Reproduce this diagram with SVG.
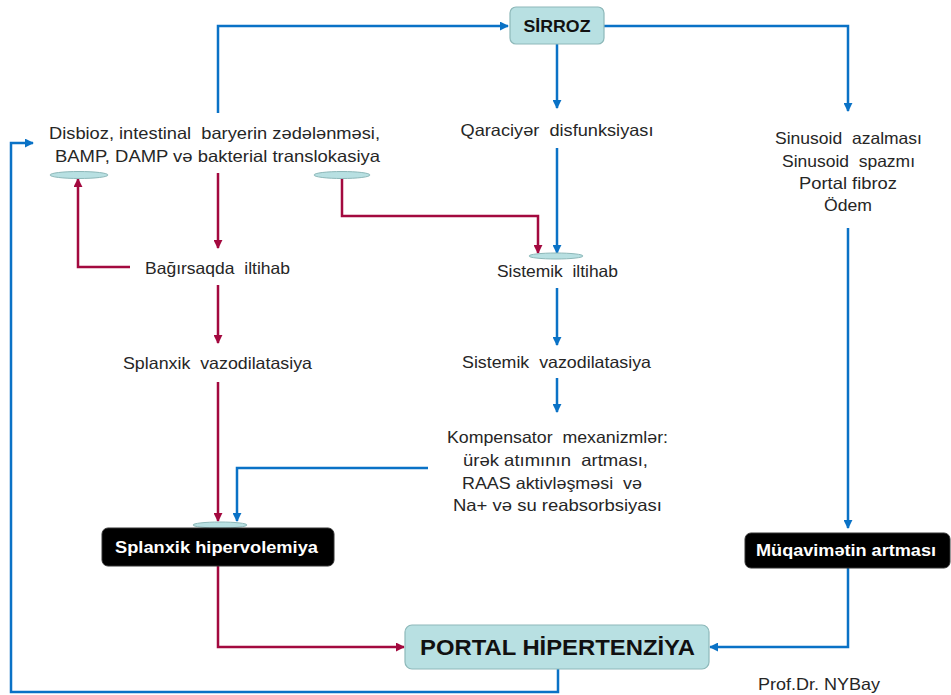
<svg xmlns="http://www.w3.org/2000/svg" width="951" height="695" viewBox="0 0 951 695">
<defs>
<marker id="ab" viewBox="0 0 10 10" refX="9" refY="5" markerWidth="9" markerHeight="9" markerUnits="userSpaceOnUse" orient="auto"><path d="M0,0 L10,5 L0,10 z" fill="#0a72c6"/></marker>
<marker id="ar" viewBox="0 0 10 10" refX="9" refY="5" markerWidth="9" markerHeight="9" markerUnits="userSpaceOnUse" orient="auto"><path d="M0,0 L10,5 L0,10 z" fill="#a3093f"/></marker>
</defs>
<style>
.t{font-family:"Liberation Sans",Arial,sans-serif;font-size:16.5px;fill:#262626;text-anchor:middle}
.b{fill:none;stroke:#0a72c6;stroke-width:2.5}
.r{fill:none;stroke:#a3093f;stroke-width:2.5}
.cy{fill:#b8e0e2;stroke:#8db8b9;stroke-width:1.2}
.ell{fill:#b8e0e2;stroke:#8db8b9;stroke-width:1}
.dk{fill:#000;stroke:#333;stroke-width:1}
.wt{font-family:"Liberation Sans",Arial,sans-serif;font-size:16.5px;font-weight:bold;fill:#fff;text-anchor:middle}
.bt{font-family:"Liberation Sans",Arial,sans-serif;font-weight:bold;fill:#111;text-anchor:middle}
</style>
<rect width="951" height="695" fill="#fff"/>
<g id="connectors">
<path class="b" d="M218,113 V26 H508" marker-end="url(#ab)"/>
<path class="b" d="M604,26 H848 V111" marker-end="url(#ab)"/>
<path class="b" d="M557,44 V108" marker-end="url(#ab)"/>
<path class="b" d="M557,148 V253" marker-end="url(#ab)"/>
<path class="r" d="M342,178 V216 H538 V253" marker-end="url(#ar)"/>
<path class="r" d="M218,173 V248" marker-end="url(#ar)"/>
<path class="r" d="M130,267 H78 V179" marker-end="url(#ar)"/>
<path class="r" d="M218,285 V343" marker-end="url(#ar)"/>
<path class="b" d="M557,288 V345" marker-end="url(#ab)"/>
<path class="b" d="M557,378 V412" marker-end="url(#ab)"/>
<path class="r" d="M218,382 V521" marker-end="url(#ar)"/>
<path class="b" d="M428,468 H237 V521" marker-end="url(#ab)"/>
<path class="r" d="M218,566 V647 H404" marker-end="url(#ar)"/>
<path class="b" d="M848,228 V528" marker-end="url(#ab)"/>
<path class="b" d="M848,568 V647 H710" marker-end="url(#ab)"/>
<path class="b" d="M558,669 V692 H11 V143 H33" marker-end="url(#ab)"/>
</g>
<g id="sirroz">
<rect class="cy" x="510" y="7" width="94" height="37" rx="6"/>
<text class="bt" x="557" y="32" font-size="16.5" textLength="67" lengthAdjust="spacingAndGlyphs">SİRROZ</text>
</g>
<g id="disbioz">
<text class="t" x="214.5" y="139" textLength="331" lengthAdjust="spacingAndGlyphs" xml:space="preserve">Disbioz, intestinal  baryerin zədələnməsi,</text>
<text class="t" x="217.5" y="162" textLength="325" lengthAdjust="spacingAndGlyphs">BAMP, DAMP və bakterial translokasiya</text>
<ellipse class="ell" cx="79" cy="175" rx="29" ry="3.5"/>
<ellipse class="ell" cx="342" cy="175" rx="28" ry="3.5"/>
</g>
<g id="qaraciyer">
<text class="t" x="557" y="136" textLength="193" lengthAdjust="spacingAndGlyphs" xml:space="preserve">Qaraciyər  disfunksiyası</text>
</g>
<g id="sinusoid">
<text class="t" x="848.5" y="144" textLength="147" lengthAdjust="spacingAndGlyphs" xml:space="preserve">Sinusoid  azalması</text>
<text class="t" x="848.5" y="167" textLength="133" lengthAdjust="spacingAndGlyphs" xml:space="preserve">Sinusoid  spazmı</text>
<text class="t" x="848" y="189" textLength="98" lengthAdjust="spacingAndGlyphs">Portal fibroz</text>
<text class="t" x="848" y="211" textLength="48" lengthAdjust="spacingAndGlyphs">Ödem</text>
</g>
<g id="bagirsaq">
<text class="t" x="217.5" y="274" textLength="145" lengthAdjust="spacingAndGlyphs" xml:space="preserve">Bağırsaqda  iltihab</text>
</g>
<g id="sistemik-iltihab">
<ellipse class="ell" cx="556" cy="256" rx="27" ry="3"/>
<text class="t" x="557.5" y="277" textLength="121" lengthAdjust="spacingAndGlyphs" xml:space="preserve">Sistemik  iltihab</text>
</g>
<g id="splanxik-vazo">
<text class="t" x="217.5" y="369" textLength="189" lengthAdjust="spacingAndGlyphs" xml:space="preserve">Splanxik  vazodilatasiya</text>
</g>
<g id="sistemik-vazo">
<text class="t" x="556.5" y="368" textLength="189" lengthAdjust="spacingAndGlyphs" xml:space="preserve">Sistemik  vazodilatasiya</text>
</g>
<g id="kompensator">
<text class="t" x="557.5" y="443" textLength="221" lengthAdjust="spacingAndGlyphs" xml:space="preserve">Kompensator  mexanizmlər:</text>
<text class="t" x="555.5" y="466" textLength="185" lengthAdjust="spacingAndGlyphs" xml:space="preserve">ürək atımının  artması,</text>
<text class="t" x="552" y="489" textLength="180" lengthAdjust="spacingAndGlyphs" xml:space="preserve">RAAS aktivləşməsi  və</text>
<text class="t" x="557.5" y="511" textLength="209" lengthAdjust="spacingAndGlyphs">Na+ və su reabsorbsiyası</text>
</g>
<g id="splanxik-hiper">
<ellipse class="ell" cx="220" cy="525" rx="27" ry="3"/>
<rect class="dk" x="102" y="528" width="232" height="38" rx="6"/>
<text class="wt" x="216.5" y="553" textLength="203" lengthAdjust="spacingAndGlyphs">Splanxik hipervolemiya</text>
</g>
<g id="muqavimet">
<rect class="dk" x="745" y="533" width="205" height="35" rx="6"/>
<text class="wt" x="846" y="556" textLength="180" lengthAdjust="spacingAndGlyphs">Müqavimətin artması</text>
</g>
<g id="portal">
<rect class="cy" x="405" y="625" width="304" height="44" rx="7"/>
<text class="bt" x="557.5" y="655" font-size="22" textLength="275" lengthAdjust="spacingAndGlyphs">PORTAL HİPERTENZİYA</text>
</g>
<g id="author">
<text class="t" x="758" y="690" style="text-anchor:start" textLength="122" lengthAdjust="spacingAndGlyphs">Prof.Dr. NYBay</text>
</g>
</svg>
